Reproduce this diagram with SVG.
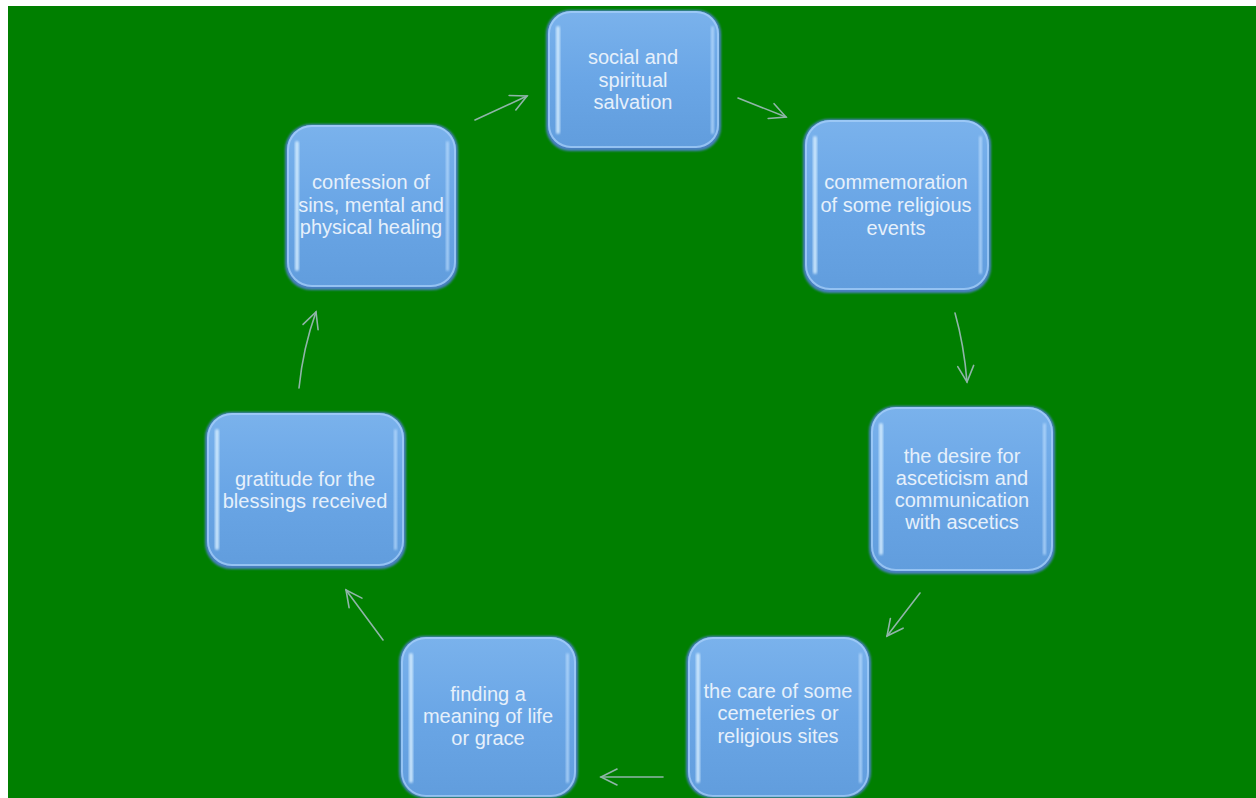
<svg xmlns="http://www.w3.org/2000/svg" width="1256" height="798" viewBox="0 0 1256 798">
<defs>
<linearGradient id="fill" x1="0" y1="0" x2="0" y2="1">
<stop offset="0" stop-color="#7ab2ec"/>
<stop offset="0.5" stop-color="#6aa6e6"/>
<stop offset="1" stop-color="#619ddd"/>
</linearGradient>
<marker id="ah" viewBox="0 0 20 20" refX="18" refY="10" markerWidth="20" markerHeight="20" markerUnits="userSpaceOnUse" orient="auto">
<path d="M2,2 L18,10 L2,18" fill="none" stroke="#8fb5a8" stroke-width="1.6" stroke-linecap="round"/>
</marker>
<filter id="blur" x="-10%" y="-10%" width="120%" height="120%"><feGaussianBlur stdDeviation="1.2"/></filter>
<filter id="soft" x="-5%" y="-5%" width="110%" height="110%"><feGaussianBlur stdDeviation="1"/></filter>
</defs>
<style>
.outer{fill:#4a80c0;}
.rim{fill:none;stroke:#a9d2fb;stroke-width:2;opacity:0.7;}
.inner{fill:url(#fill);}
.hl{fill:#d4edff;opacity:0.85;}
.hr{fill:#bfe0ff;opacity:0.7;}
.lbl{font-family:"Liberation Sans",Arial,sans-serif;font-size:20px;fill:#e6f0fb;text-anchor:middle;}
.conn{fill:none;stroke:#8fb5a8;stroke-width:1.6;stroke-linecap:round;marker-end:url(#ah);}
</style>
<rect x="0" y="0" width="1256" height="798" fill="#ffffff"/>
<rect x="8" y="6" width="1248" height="792" fill="#007f00"/>

<g id="connectors">
<path class="conn" d="M475,120 L527,96"/>
<path class="conn" d="M738,98 L786,117"/>
<path class="conn" d="M955,313 Q964,345 967,382"/>
<path class="conn" d="M920,593 L887,636"/>
<path class="conn" d="M663,777 L601,777"/>
<path class="conn" d="M383,640 L346,590"/>
<path class="conn" d="M299,388 Q303,348 316,312"/>
</g>

<g id="n1">
<rect class="outer" x="546" y="10" width="175" height="141" rx="24" filter="url(#soft)"/>
<rect class="inner" x="548" y="11" width="171" height="137" rx="23"/>
<rect class="rim" x="549" y="12" width="169" height="135" rx="22"/>
<rect class="hl" x="556" y="26" width="4" height="108" rx="2" filter="url(#blur)"/>
<rect class="hr" x="711" y="26" width="3" height="108" rx="1.5" filter="url(#blur)"/>
<text class="lbl" x="633" y="64">social and</text>
<text class="lbl" x="633" y="87">spiritual</text>
<text class="lbl" x="633" y="109">salvation</text>
</g>

<g id="n2">
<rect class="outer" x="803" y="119" width="188" height="174" rx="26" filter="url(#soft)"/>
<rect class="inner" x="805" y="120" width="184" height="170" rx="25"/>
<rect class="rim" x="806" y="121" width="182" height="168" rx="24"/>
<rect class="hl" x="813" y="136" width="4" height="138" rx="2" filter="url(#blur)"/>
<rect class="hr" x="979" y="136" width="3" height="138" rx="1.5" filter="url(#blur)"/>
<text class="lbl" x="896" y="189">commemoration</text>
<text class="lbl" x="896" y="212">of some religious</text>
<text class="lbl" x="896" y="235">events</text>
</g>

<g id="n3">
<rect class="outer" x="869" y="406" width="186" height="168" rx="26" filter="url(#soft)"/>
<rect class="inner" x="871" y="407" width="182" height="164" rx="25"/>
<rect class="rim" x="872" y="408" width="180" height="162" rx="24"/>
<rect class="hl" x="879" y="423" width="4" height="132" rx="2" filter="url(#blur)"/>
<rect class="hr" x="1043" y="423" width="3" height="132" rx="1.5" filter="url(#blur)"/>
<text class="lbl" x="962" y="463">the desire for</text>
<text class="lbl" x="962" y="485">asceticism and</text>
<text class="lbl" x="962" y="507">communication</text>
<text class="lbl" x="962" y="529">with ascetics</text>
</g>

<g id="n4">
<rect class="outer" x="686" y="636" width="185" height="162" rx="26" filter="url(#soft)"/>
<rect class="inner" x="688" y="637" width="181" height="159" rx="25"/>
<rect class="rim" x="689" y="638" width="179" height="158" rx="24"/>
<rect class="hl" x="696" y="653" width="4" height="130" rx="2" filter="url(#blur)"/>
<rect class="hr" x="859" y="653" width="3" height="130" rx="1.5" filter="url(#blur)"/>
<text class="lbl" x="778" y="698">the care of some</text>
<text class="lbl" x="778" y="720">cemeteries or</text>
<text class="lbl" x="778" y="743">religious sites</text>
</g>

<g id="n5">
<rect class="outer" x="399" y="636" width="179" height="162" rx="26" filter="url(#soft)"/>
<rect class="inner" x="401" y="637" width="175" height="159" rx="25"/>
<rect class="rim" x="402" y="638" width="173" height="158" rx="24"/>
<rect class="hl" x="409" y="653" width="4" height="130" rx="2" filter="url(#blur)"/>
<rect class="hr" x="566" y="653" width="3" height="130" rx="1.5" filter="url(#blur)"/>
<text class="lbl" x="488" y="701">finding a</text>
<text class="lbl" x="488" y="723">meaning of life</text>
<text class="lbl" x="488" y="745">or grace</text>
</g>

<g id="n6">
<rect class="outer" x="205" y="412" width="201" height="157" rx="26" filter="url(#soft)"/>
<rect class="inner" x="207" y="413" width="197" height="153" rx="25"/>
<rect class="rim" x="208" y="414" width="195" height="151" rx="24"/>
<rect class="hl" x="215" y="429" width="4" height="121" rx="2" filter="url(#blur)"/>
<rect class="hr" x="394" y="429" width="3" height="121" rx="1.5" filter="url(#blur)"/>
<text class="lbl" x="305" y="486">gratitude for the</text>
<text class="lbl" x="305" y="508">blessings received</text>
</g>

<g id="n7">
<rect class="outer" x="285" y="124" width="173" height="166" rx="26" filter="url(#soft)"/>
<rect class="inner" x="287" y="125" width="169" height="162" rx="25"/>
<rect class="rim" x="288" y="126" width="167" height="160" rx="24"/>
<rect class="hl" x="295" y="141" width="4" height="130" rx="2" filter="url(#blur)"/>
<rect class="hr" x="446" y="141" width="3" height="130" rx="1.5" filter="url(#blur)"/>
<text class="lbl" x="371" y="189">confession of</text>
<text class="lbl" x="371" y="212">sins, mental and</text>
<text class="lbl" x="371" y="234">physical healing</text>
</g>
</svg>
